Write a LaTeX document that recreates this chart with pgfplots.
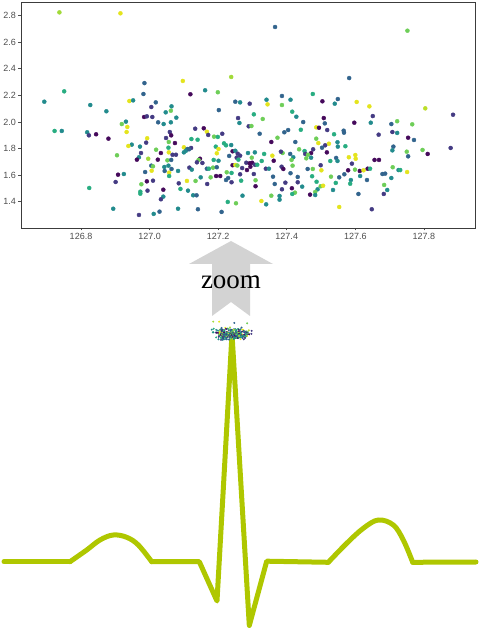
\documentclass[border=0pt]{standalone}
\usepackage{fontspec}
\setmainfont{Liberation Sans}
\newfontfamily\zoomfont{Liberation Serif}
\usepackage{pgfplots}
\pgfplotsset{compat=1.18}
\usepackage{pgfplotstable}

\definecolor{ecg}{RGB}{175,199,0}
\definecolor{arrowgray}{RGB}{211,211,211}
\definecolor{framecol}{RGB}{60,60,60}
\definecolor{ticktext}{RGB}{77,77,77}

% x, y, colour value (0 = dark purple ... 1 = yellow)
\pgfplotstableread{
x y c
126.737 2.824 0.86
126.915 2.817 0.96
127.366 2.714 0.32
127.752 2.686 0.78
126.985 2.292 0.32
126.751 2.230 0.62
126.693 2.152 0.48
126.982 2.210 0.32
126.941 2.157 0.96
126.952 2.162 0.48
127.018 2.147 0.32
126.827 2.127 0.48
127.005 2.112 0.17
126.874 2.080 0.48
127.047 2.072 0.48
126.984 2.037 0.02
126.992 2.042 0.17
127.008 2.037 0.17
127.025 1.997 0.32
127.041 1.984 0.48
126.931 2.002 0.48
126.919 1.984 0.78
126.935 1.962 0.96
126.933 1.924 0.96
126.723 1.932 0.62
126.744 1.932 0.48
126.818 1.922 0.48
126.823 1.899 0.17
126.844 1.907 0.02
126.880 1.874 0.02
126.993 1.877 0.96
127.048 1.879 0.17
126.990 1.844 0.17
127.056 1.849 0.78
126.948 1.829 0.48
126.938 1.819 0.96
126.972 1.814 0.48
127.019 1.791 0.78
126.975 1.766 0.17
127.033 1.766 0.02
127.056 1.771 0.96
126.905 1.749 0.78
126.969 1.734 0.48
126.963 1.716 0.02
126.996 1.723 0.86
127.024 1.716 0.02
127.052 1.711 0.78
127.005 1.671 0.32
127.010 1.666 0.78
127.043 1.661 0.48
127.055 1.671 0.48
127.006 1.633 0.96
126.987 1.623 0.32
127.044 1.631 0.32
127.057 1.618 0.96
126.908 1.603 0.02
126.925 1.608 0.48
127.057 1.593 0.62
126.992 1.553 0.02
127.010 1.558 0.17
126.901 1.548 0.17
126.976 1.531 0.78
127.040 1.490 0.02
126.994 1.483 0.17
126.973 1.475 0.62
126.973 1.460 0.62
126.824 1.503 0.62
127.040 1.438 0.48
127.033 1.418 0.17
127.029 1.325 0.32
127.012 1.308 0.48
126.969 1.300 0.17
126.894 1.347 0.48
127.238 2.338 0.86
127.097 2.308 0.96
127.162 2.238 0.48
127.199 2.223 0.78
127.119 2.208 0.02
127.250 2.152 0.32
127.264 2.147 0.48
127.292 2.137 0.17
127.341 2.167 0.48
127.344 2.132 0.96
127.064 2.117 0.48
127.062 2.084 0.78
127.202 2.089 0.32
127.304 2.057 0.62
127.078 2.032 0.48
127.062 1.997 0.48
127.258 2.029 0.17
127.330 2.022 0.78
127.262 1.992 0.48
127.289 1.967 0.17
127.297 1.969 0.78
127.133 1.949 0.17
127.158 1.952 0.02
127.167 1.926 0.96
127.171 1.902 0.17
127.212 1.911 0.17
127.321 1.911 0.32
127.059 1.924 0.17
127.063 1.899 0.02
127.074 1.841 0.02
127.122 1.871 0.62
127.140 1.866 0.62
127.188 1.889 0.78
127.199 1.887 0.62
127.355 1.849 0.02
127.217 1.839 0.62
127.223 1.824 0.62
127.238 1.826 0.48
127.193 1.814 0.62
127.201 1.796 0.96
127.055 1.806 0.62
127.100 1.809 0.96
127.121 1.804 0.17
127.110 1.796 0.32
127.106 1.783 0.48
127.115 1.794 0.32
127.242 1.779 0.02
127.250 1.783 0.48
127.287 1.766 0.48
127.307 1.771 0.48
127.334 1.759 0.62
127.358 1.746 0.96
127.067 1.753 0.17
127.077 1.753 0.17
127.100 1.771 0.48
127.196 1.764 0.96
127.232 1.744 0.32
127.257 1.761 0.17
127.264 1.746 0.17
127.254 1.731 0.17
127.259 1.716 0.62
127.298 1.731 0.78
127.063 1.714 0.32
127.147 1.723 0.02
127.143 1.714 0.78
127.138 1.696 0.17
127.154 1.691 0.17
127.187 1.714 0.62
127.201 1.708 0.48
127.282 1.693 0.17
127.292 1.689 0.02
127.299 1.693 0.02
127.307 1.678 0.17
127.314 1.678 0.62
127.294 1.663 0.02
127.327 1.706 0.62
127.362 1.708 0.02
127.064 1.646 0.32
127.083 1.631 0.48
127.116 1.656 0.17
127.123 1.641 0.48
127.167 1.648 0.32
127.173 1.648 0.62
127.185 1.656 0.78
127.196 1.659 0.32
127.242 1.674 0.02
127.250 1.676 0.96
127.256 1.672 0.78
127.270 1.653 0.17
127.284 1.638 0.02
127.304 1.608 0.17
127.339 1.648 0.17
127.348 1.648 0.48
127.225 1.621 0.78
127.239 1.616 0.62
127.264 1.606 0.17
127.194 1.593 0.02
127.206 1.593 0.02
127.223 1.563 0.32
127.229 1.578 0.32
127.149 1.583 0.48
127.178 1.583 0.78
127.134 1.556 0.78
127.109 1.556 0.96
127.085 1.538 0.17
127.267 1.558 0.62
127.309 1.561 0.78
127.360 1.588 0.32
127.239 1.546 0.17
127.168 1.533 0.17
127.309 1.516 0.02
127.090 1.496 0.62
127.112 1.483 0.48
127.127 1.448 0.48
127.137 1.448 0.32
127.271 1.445 0.48
127.355 1.445 0.78
127.326 1.405 0.96
127.228 1.398 0.62
127.252 1.388 0.78
127.340 1.380 0.48
127.083 1.347 0.48
127.141 1.343 0.32
127.210 1.323 0.32
127.582 2.330 0.32
127.386 2.195 0.32
127.411 2.167 0.48
127.476 2.210 0.62
127.549 2.172 0.32
127.504 2.155 0.02
127.540 2.137 0.48
127.604 2.150 0.96
127.641 2.117 0.96
127.386 2.127 0.78
127.416 2.077 0.62
127.428 2.039 0.48
127.651 2.044 0.17
127.448 1.999 0.32
127.508 2.029 0.02
127.511 1.989 0.32
127.597 1.994 0.02
127.645 1.994 0.48
127.486 1.959 0.96
127.494 1.956 0.02
127.518 1.939 0.17
127.441 1.941 0.62
127.404 1.939 0.32
127.393 1.922 0.32
127.566 1.934 0.32
127.567 1.919 0.32
127.538 1.907 0.62
127.668 1.904 0.17
127.373 1.881 0.78
127.486 1.874 0.78
127.492 1.841 0.96
127.523 1.836 0.96
127.512 1.824 0.17
127.548 1.847 0.48
127.549 1.814 0.48
127.571 1.817 0.62
127.503 1.806 0.32
127.425 1.849 0.32
127.477 1.794 0.17
127.471 1.766 0.02
127.517 1.771 0.02
127.436 1.794 0.78
127.452 1.781 0.62
127.454 1.759 0.17
127.462 1.753 0.78
127.457 1.726 0.78
127.471 1.731 0.48
127.410 1.759 0.32
127.388 1.766 0.78
127.383 1.776 0.17
127.419 1.734 0.48
127.414 1.714 0.78
127.581 1.734 0.96
127.600 1.751 0.96
127.601 1.723 0.96
127.544 1.729 0.32
127.548 1.706 0.48
127.527 1.706 0.62
127.656 1.714 0.02
127.669 1.714 0.02
127.590 1.686 0.17
127.499 1.674 0.17
127.417 1.671 0.78
127.385 1.663 0.17
127.390 1.646 0.02
127.476 1.646 0.78
127.461 1.646 0.32
127.501 1.636 0.96
127.579 1.636 0.02
127.599 1.641 0.78
127.613 1.631 0.02
127.624 1.636 0.96
127.636 1.648 0.02
127.643 1.648 0.62
127.568 1.606 0.32
127.553 1.583 0.32
127.529 1.588 0.78
127.474 1.591 0.62
127.432 1.586 0.32
127.411 1.614 0.32
127.587 1.563 0.48
127.614 1.593 0.48
127.634 1.563 0.32
127.585 1.535 0.62
127.543 1.541 0.62
127.487 1.550 0.62
127.432 1.546 0.17
127.396 1.543 0.17
127.365 1.533 0.32
127.445 1.513 0.48
127.415 1.501 0.02
127.386 1.493 0.17
127.499 1.516 0.78
127.506 1.520 0.96
127.490 1.493 0.48
127.535 1.488 0.48
127.483 1.473 0.78
127.483 1.450 0.48
127.468 1.453 0.02
127.424 1.468 0.78
127.416 1.458 0.62
127.379 1.443 0.48
127.379 1.415 0.48
127.609 1.458 0.32
127.553 1.360 0.96
127.648 1.343 0.17
127.804 2.102 0.90
127.885 2.054 0.17
127.722 2.005 0.78
127.766 1.982 0.78
127.705 1.984 0.32
127.708 1.924 0.17
127.722 1.917 0.48
127.754 1.881 0.02
127.771 1.864 0.32
127.711 1.814 0.32
127.708 1.786 0.48
127.750 1.776 0.78
127.796 1.789 0.78
127.878 1.804 0.17
127.754 1.741 0.32
127.811 1.759 0.02
127.709 1.659 0.78
127.726 1.638 0.48
127.731 1.638 0.62
127.751 1.623 0.96
127.679 1.608 0.32
127.687 1.611 0.32
127.705 1.578 0.48
127.684 1.526 0.78
127.693 1.488 0.48
127.683 1.458 0.17
}\scatterdata

\tikzset{ecgline/.style={ecg, line width=5pt, line join=round, line cap=round}}

\begin{document}
\begin{tikzpicture}
\path[use as bounding box] (0pt,0pt) rectangle (480pt,630pt);

% ECG trace, drawn on a page-sized hidden axis
\begin{axis}[at={(0pt,0pt)}, anchor=south west, width=480pt, height=630pt,
  scale only axis, xmin=0, xmax=480, ymin=0, ymax=630, hide axis, clip=false]
\addplot[ecgline] coordinates {(4,68.3) (70,68.3)};
\addplot[ecgline, smooth, tension=0.6] coordinates {
  (70,68.3) (86.7,80) (100,90) (113.3,95) (126.7,92.7) (138.3,85) (151.7,68.3)};
\addplot[ecgline] coordinates {
  (151.7,68.3) (199.3,68.3) (217,29) (232,296) (249.3,4.5) (266.7,68.8) (328.3,67.7)};
\addplot[ecgline, smooth, tension=0.6] coordinates {
  (328.3,67.7) (346.7,86.7) (363.3,101.7) (378.3,110) (393.3,105) (403.3,90) (412.7,67.7)};
\addplot[ecgline] coordinates {(412.7,67.7) (476,68)};
\end{axis}

% the tiny cloud on top of the spike
\begin{axis}[at={(209.5pt,289pt)}, anchor=south west, width=44.3pt, height=20.3pt,
  scale only axis, xmin=126.625, xmax=127.949, ymin=1.202, ymax=2.902,
  hide axis, clip=false, colormap/viridis, point meta min=0, point meta max=1]
\addplot[scatter, only marks, mark=*, mark size=0.75pt, scatter src=explicit,
  scatter/use mapped color={draw=mapped color, fill=mapped color}]
  table[x=x, y=y, meta=c] {\scatterdata};
\end{axis}

% zoom arrow
\begin{scope}[x=1pt, y=1pt]
\fill[arrowgray] (231,389) -- (273,366) -- (250,366) -- (250,314) -- (231,328)
  -- (212,314) -- (212,366) -- (189,366) -- cycle;
\node[anchor=base, inner sep=0pt, font=\zoomfont\fontsize{27}{30}\selectfont]
  at (231,341) {zoom};
\end{scope}

% magnified scatter
\begin{axis}[at={(21pt,402pt)}, anchor=south west, width=454pt, height=226pt,
  scale only axis, xmin=126.625, xmax=127.949, ymin=1.202, ymax=2.902,
  axis line style={framecol, line width=0.8pt},
  tick align=outside, tick pos=left, major tick length=2.5pt,
  tick style={ticktext, line width=0.5pt},
  xtick={126.8,127.0,127.2,127.4,127.6,127.8},
  ytick={1.4,1.6,1.8,2.0,2.2,2.4,2.6,2.8},
  /pgf/number format/.cd, fixed, fixed zerofill, precision=1, assume math mode=true,
  /pgfplots/.cd,
  ticklabel style={font=\fontsize{9}{10}\selectfont, text=ticktext},
  xticklabel style={yshift=1pt},
  yticklabel style={xshift=1pt},
  colormap/viridis, point meta min=0, point meta max=1]
\addplot[scatter, only marks, mark=*, mark size=2pt, scatter src=explicit,
  scatter/use mapped color={draw=mapped color, fill=mapped color}]
  table[x=x, y=y, meta=c] {\scatterdata};
\end{axis}
\end{tikzpicture}
\end{document}
